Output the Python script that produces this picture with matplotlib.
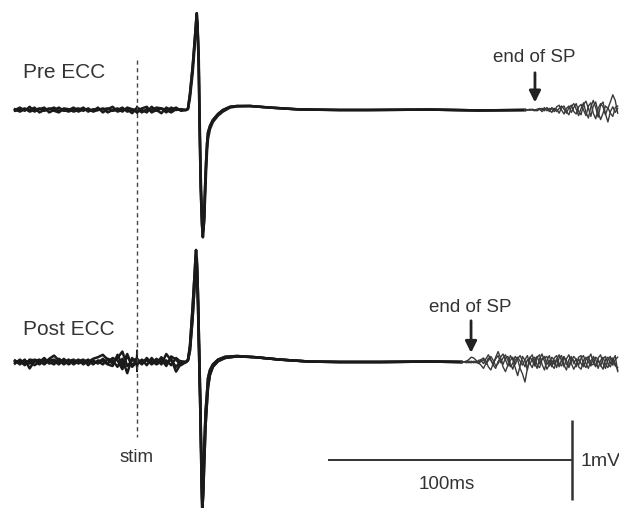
import numpy as np
import matplotlib
matplotlib.use("Agg")
import matplotlib.pyplot as plt

plt.rcParams["font.family"] = ["Liberation Sans", "DejaVu Sans"]

# time in ms relative to stimulus, amplitude in mV
base_t = np.arange(-50, 20, 2)          # pre-stimulus / pre-MEP samples
pre_noise_t = np.arange(160, 198, 1)    # after end of silent period (pre)
post_noise_t = np.arange(134, 198, 1)   # after end of silent period (post)

pre_base = [
    [0.00, 0.03, -0.01, 0.04, -0.02, 0.01, 0.03, -0.03, 0.00, 0.03, -0.01, 0.00, 0.03, -0.02, 0.01, 0.00, -0.01, 0.03,
     -0.03, 0.01, 0.04, -0.02, 0.00, 0.01, -0.04, 0.03, 0.00, -0.03, 0.04, -0.01, 0.02, -0.03, 0.03, 0.00, 0.01],
    [0.01, -0.02, 0.01, 0.00, 0.03, -0.03, 0.00, 0.02, -0.01, -0.03, 0.02, 0.01, -0.02, 0.00, 0.03, -0.02, 0.01, 0.00,
     0.02, -0.03, 0.00, 0.02, -0.02, 0.03, 0.01, -0.03, 0.02, 0.04, -0.03, 0.00, -0.04, 0.03, 0.00, 0.03, -0.01],
    [-0.01, 0.00, 0.02, -0.02, 0.00, 0.02, -0.01, 0.01, 0.03, -0.01, 0.00, -0.02, 0.01, 0.02, -0.01, 0.02, -0.02, 0.00,
     0.01, 0.02, -0.01, 0.00, 0.03, -0.02, 0.00, 0.01, -0.03, 0.01, 0.00, 0.03, 0.02, 0.00, -0.03, 0.01, 0.00],
]

post_base = [
    [0.02, -0.03, 0.03, -0.08, 0.01, 0.03, -0.02, 0.04, 0.08, 0.02, -0.03, 0.01, 0.03, -0.02, 0.02, 0.00, 0.04, 0.06,
     0.09, 0.03, -0.02, 0.05, 0.13, -0.05, 0.02, 0.04, -0.03, 0.05, -0.02, 0.04, -0.03, 0.10, 0.02, -0.06, 0.01],
    [-0.02, 0.03, -0.02, 0.02, -0.04, 0.00, 0.05, -0.02, 0.01, -0.03, 0.04, -0.02, 0.00, 0.03, -0.03, 0.02, -0.02, 0.01,
     -0.03, 0.04, 0.02, -0.06, 0.04, -0.14, 0.05, -0.03, 0.03, -0.04, 0.05, -0.02, 0.06, -0.03, 0.04, -0.12, -0.02],
    [0.00, 0.01, -0.04, 0.03, 0.02, -0.03, 0.02, 0.00, -0.03, 0.04, 0.00, 0.03, -0.03, 0.01, 0.03, -0.04, 0.02, -0.02,
     0.04, -0.02, 0.05, 0.02, -0.09, 0.08, -0.04, 0.02, 0.01, 0.03, -0.03, 0.02, 0.03, -0.05, 0.07, 0.03, -0.04],
    [0.01, 0.00, 0.02, -0.02, 0.03, 0.01, -0.03, 0.02, 0.03, -0.01, 0.02, -0.03, 0.02, -0.01, 0.00, 0.03, -0.03, 0.02,
     0.01, -0.03, -0.05, 0.09, -0.04, 0.10, -0.06, 0.00, -0.02, 0.02, 0.01, -0.03, 0.01, 0.02, -0.04, 0.05, 0.00],
]

# motor evoked potential shape
pre_mep_t = [20.1, 20.9, 21.7, 22.8, 23.6, 24.2, 24.5, 24.8, 25.3, 25.6, 26.1, 26.6, 27.0, 27.5, 27.9, 28.3, 28.7,
             29.1, 29.9, 31.1, 33.2, 35.2, 38.1, 41.0, 46.3, 54.5, 66.8, 83.0]
pre_mep = [
    [0.0, 0.02, 0.2, 0.54, 0.85, 1.1, 1.21, 1.05, 0.54, -0.1, -0.96, -1.42, -1.59, -1.35, -0.96, -0.65, -0.42,
     -0.28, -0.2, -0.125, -0.05, 0.0, 0.04, 0.05, 0.05, 0.03, 0.006, 0.0],
    [0.0, 0.01, 0.15, 0.46, 0.78, 1.02, 1.13, 1.08, 0.68, 0.05, -0.8, -1.3, -1.52, -1.42, -1.1, -0.78, -0.52,
     -0.36, -0.24, -0.15, -0.07, -0.02, 0.03, 0.045, 0.05, 0.03, 0.008, 0.0],
]

post_mep_t = [20.1, 20.9, 21.7, 22.8, 23.6, 24.0, 24.2, 24.5, 25.0, 25.5, 26.0, 26.4, 26.8, 27.2, 27.7, 28.1, 28.6,
              29.1, 29.9, 31.1, 33.2, 36.1, 41.0, 48.4, 58.6, 70.9, 83.0]
post_mep = [
    [0.0, 0.03, 0.2, 0.69, 1.1, 1.32, 1.4, 1.25, 0.69, 0.0, -0.7, -1.4, -1.95, -1.4, -0.95, -0.62, -0.42,
     -0.2, -0.1, -0.03, 0.03, 0.065, 0.075, 0.06, 0.03, 0.005, 0.0],
    [0.0, 0.02, 0.14, 0.55, 0.95, 1.18, 1.3, 1.3, 0.85, 0.15, -0.55, -1.25, -1.85, -1.6, -1.15, -0.8, -0.55,
     -0.32, -0.16, -0.06, 0.01, 0.05, 0.07, 0.06, 0.03, 0.005, 0.0],
]

# silent period (flat)
pre_sp_t = [95, 120, 140, 159]
pre_sp = [0.0, 0.005, -0.005, 0.0]
post_sp_t = [100, 120, 133]
post_sp = [0.0, 0.005, 0.0]

pre_end = [
    [0, 0, 0, 0, 0.01, 0.02, 0.00, 0.03, -0.01, 0.02, 0.01, -0.02, 0.04, 0.06, 0.00, -0.05, 0.02, 0.05, -0.03,
     0.03, 0.08, -0.02, -0.06, 0.07, 0.11, 0.02, -0.08, 0.05, 0.10, -0.03, -0.12, -0.04, 0.05, 0.02, 0.10, 0.19,
     0.12, -0.04],
    [0, 0, 0.01, 0, -0.01, 0.01, 0.02, -0.01, 0.03, 0.00, -0.03, 0.02, 0.01, -0.04, 0.03, 0.05, -0.02, -0.06, 0.04,
     0.08, 0.01, -0.07, 0.02, 0.09, -0.03, -0.10, 0.04, 0.12, 0.03, -0.09, 0.06, 0.10, -0.05, -0.15, -0.02, 0.04,
     -0.03, 0.02],
    [0, 0.01, 0, -0.01, 0, 0.01, -0.02, 0.01, 0.02, -0.02, 0.03, 0.01, -0.02, 0.02, 0.05, 0.01, -0.04, 0.03, 0.06,
     -0.02, -0.05, 0.04, 0.07, 0.00, -0.07, 0.05, 0.09, -0.04, -0.11, 0.02, 0.08, 0.04, -0.06, 0.03, -0.04, -0.08,
     0.03, 0.05],
]

post_end = [
    [0, 0.01, 0.03, 0.06, 0.05, 0.02, -0.01, -0.04, -0.08, -0.02, 0.05, 0.02, -0.03, 0.06, 0.13, 0.05,
     -0.06, -0.12, -0.04, 0.08, 0.03, -0.07, -0.17, -0.05, 0.07, 0.02, -0.10, 0.05, 0.09, -0.02, -0.08, 0.04,
     0.10, 0.01, -0.09, -0.03, 0.06, 0.02, -0.07, 0.05, 0.08, -0.04, -0.10, 0.03, 0.07, -0.02, 0.04, -0.06,
     -0.09, 0.02, 0.06, 0.00, -0.05, 0.07, 0.03, -0.08, 0.02, 0.06, -0.03, -0.07, 0.04, 0.05, -0.02, -0.10],
    [0, 0, -0.01, 0.01, 0.00, -0.01, 0.02, 0.03, 0.05, 0.01, -0.06, -0.10, -0.02, 0.04, 0.08, -0.01,
     0.05, 0.09, 0.02, -0.06, -0.02, 0.07, 0.03, -0.08, -0.15, -0.25, -0.08, 0.06, 0.02, -0.05, 0.06, 0.09,
     -0.03, -0.10, 0.02, 0.08, -0.04, -0.08, 0.03, 0.09, 0.02, -0.06, 0.04, 0.09, -0.02, -0.09, -0.03, 0.06,
     0.08, -0.03, -0.07, 0.04, 0.10, -0.01, -0.06, 0.05, 0.09, -0.02, -0.08, 0.03, 0.07, -0.04, 0.03, 0.06],
    [0, 0.01, 0, -0.01, 0.01, 0.00, -0.02, 0.01, 0.03, -0.03, 0.02, 0.07, 0.02, -0.05, -0.02, 0.06,
     0.10, 0.03, -0.05, 0.02, 0.06, -0.03, 0.04, 0.08, 0.01, -0.06, 0.03, -0.02, -0.07, 0.03, 0.07, -0.02,
     0.04, 0.07, -0.03, 0.02, -0.06, 0.05, 0.08, -0.02, -0.05, 0.06, 0.02, -0.07, 0.01, 0.07, 0.03, -0.04,
     0.05, 0.08, -0.02, -0.08, 0.02, 0.04, -0.05, 0.02, -0.04, -0.09, 0.03, 0.06, -0.02, 0.04, -0.05, -0.07],
    [0, -0.01, 0.01, 0, -0.01, 0.01, 0.00, 0.02, -0.02, 0.04, 0.09, 0.03, -0.04, -0.08, 0.01, 0.04,
     -0.03, 0.05, 0.07, -0.02, -0.09, 0.02, 0.06, 0.01, -0.04, 0.03, 0.08, -0.03, 0.04, 0.06, -0.04, -0.07,
     0.03, 0.05, 0.07, -0.05, 0.02, -0.03, 0.04, -0.06, 0.03, 0.07, -0.03, -0.05, 0.05, 0.02, -0.06, 0.04,
     -0.02, -0.06, 0.03, 0.07, -0.04, -0.03, 0.06, 0.03, -0.05, 0.04, 0.07, -0.02, -0.06, 0.02, 0.08, -0.12],
]

# stimulus artefact
stim_t = [-0.4, 0.0, 0.2, 0.5]
pre_stim = [[0.0, 0.05, -0.04, 0.0], [0.0, -0.04, 0.03, 0.0]]
post_stim = [[0.0, 0.15, -0.06, 0.0], [0.0, -0.12, 0.05, 0.0]]

post_offset = -3.15
trace_color = "#1a1a1a"
noise_color = "#3a3a3a"
text_color = "#333333"

fig = plt.figure(figsize=(6.19, 5.08), dpi=100)
ax = fig.add_axes([0, 0, 1, 1])
ax.set_xlim(-137 / 2.44, (619 - 137) / 2.44)
ax.set_ylim((110 - 508) / 80, 110 / 80)
ax.axis("off")


def draw_panel(base, mep_t, meps, sp_t, sp, end_t, ends, stims, offset):
    for i, b in enumerate(base):
        m = meps[i % len(meps)]
        t = np.concatenate([base_t, mep_t, sp_t])
        v = np.concatenate([b, m, sp])
        ax.plot(t, v + offset, color=trace_color, lw=1.8, solid_joinstyle="round")
    for e in ends:
        t = np.concatenate([[sp_t[-1]], end_t])
        v = np.concatenate([[sp[-1]], e])
        ax.plot(t, v + offset, color=noise_color, lw=1.0, solid_joinstyle="round")
    for s in stims:
        ax.plot(stim_t, np.array(s) + offset, color=trace_color, lw=1.0)


draw_panel(pre_base, pre_mep_t, pre_mep, pre_sp_t, pre_sp, pre_noise_t, pre_end, pre_stim, 0.0)
draw_panel(post_base, post_mep_t, post_mep, post_sp_t, post_sp, post_noise_t, post_end, post_stim, post_offset)

# stimulus line
ax.plot([0, 0], [0.625, -4.09], color="#444444", lw=1.0, dashes=(3, 2.5))

# end of silent period arrows
ax.annotate("", xy=(163.1, 0.06), xytext=(163.1, 0.5),
            arrowprops=dict(arrowstyle="-|>", mutation_scale=17, lw=2.0, color="#222222"))
ax.annotate("", xy=(136.9, post_offset + 0.08), xytext=(136.9, post_offset + 0.55),
            arrowprops=dict(arrowstyle="-|>", mutation_scale=17, lw=2.0, color="#222222"))

# scale bars: 100 ms and 1 mV
ax.plot([78.3, 178.3], [-4.375, -4.375], color="#333333", lw=1.4, solid_capstyle="butt")
ax.plot([178.3, 178.3], [-3.875, -4.875], color="#333333", lw=1.8, solid_capstyle="butt")


def ftext(px, py, s, size, ha="center"):
    fig.text(px / 619, 1 - py / 508, s, ha=ha, va="baseline", fontsize=size, color=text_color)


ftext(23, 78, "Pre ECC", 15, ha="left")
ftext(23, 335, "Post ECC", 15, ha="left")
ftext(534, 62, "end of SP", 13.5)
ftext(470, 312, "end of SP", 13.5)
ftext(137, 462, "stim", 13.5)
ftext(447, 489, "100ms", 13.5)
ftext(580, 466, "1mV", 14, ha="left")

fig.savefig("out.png", dpi=100, facecolor="white")
